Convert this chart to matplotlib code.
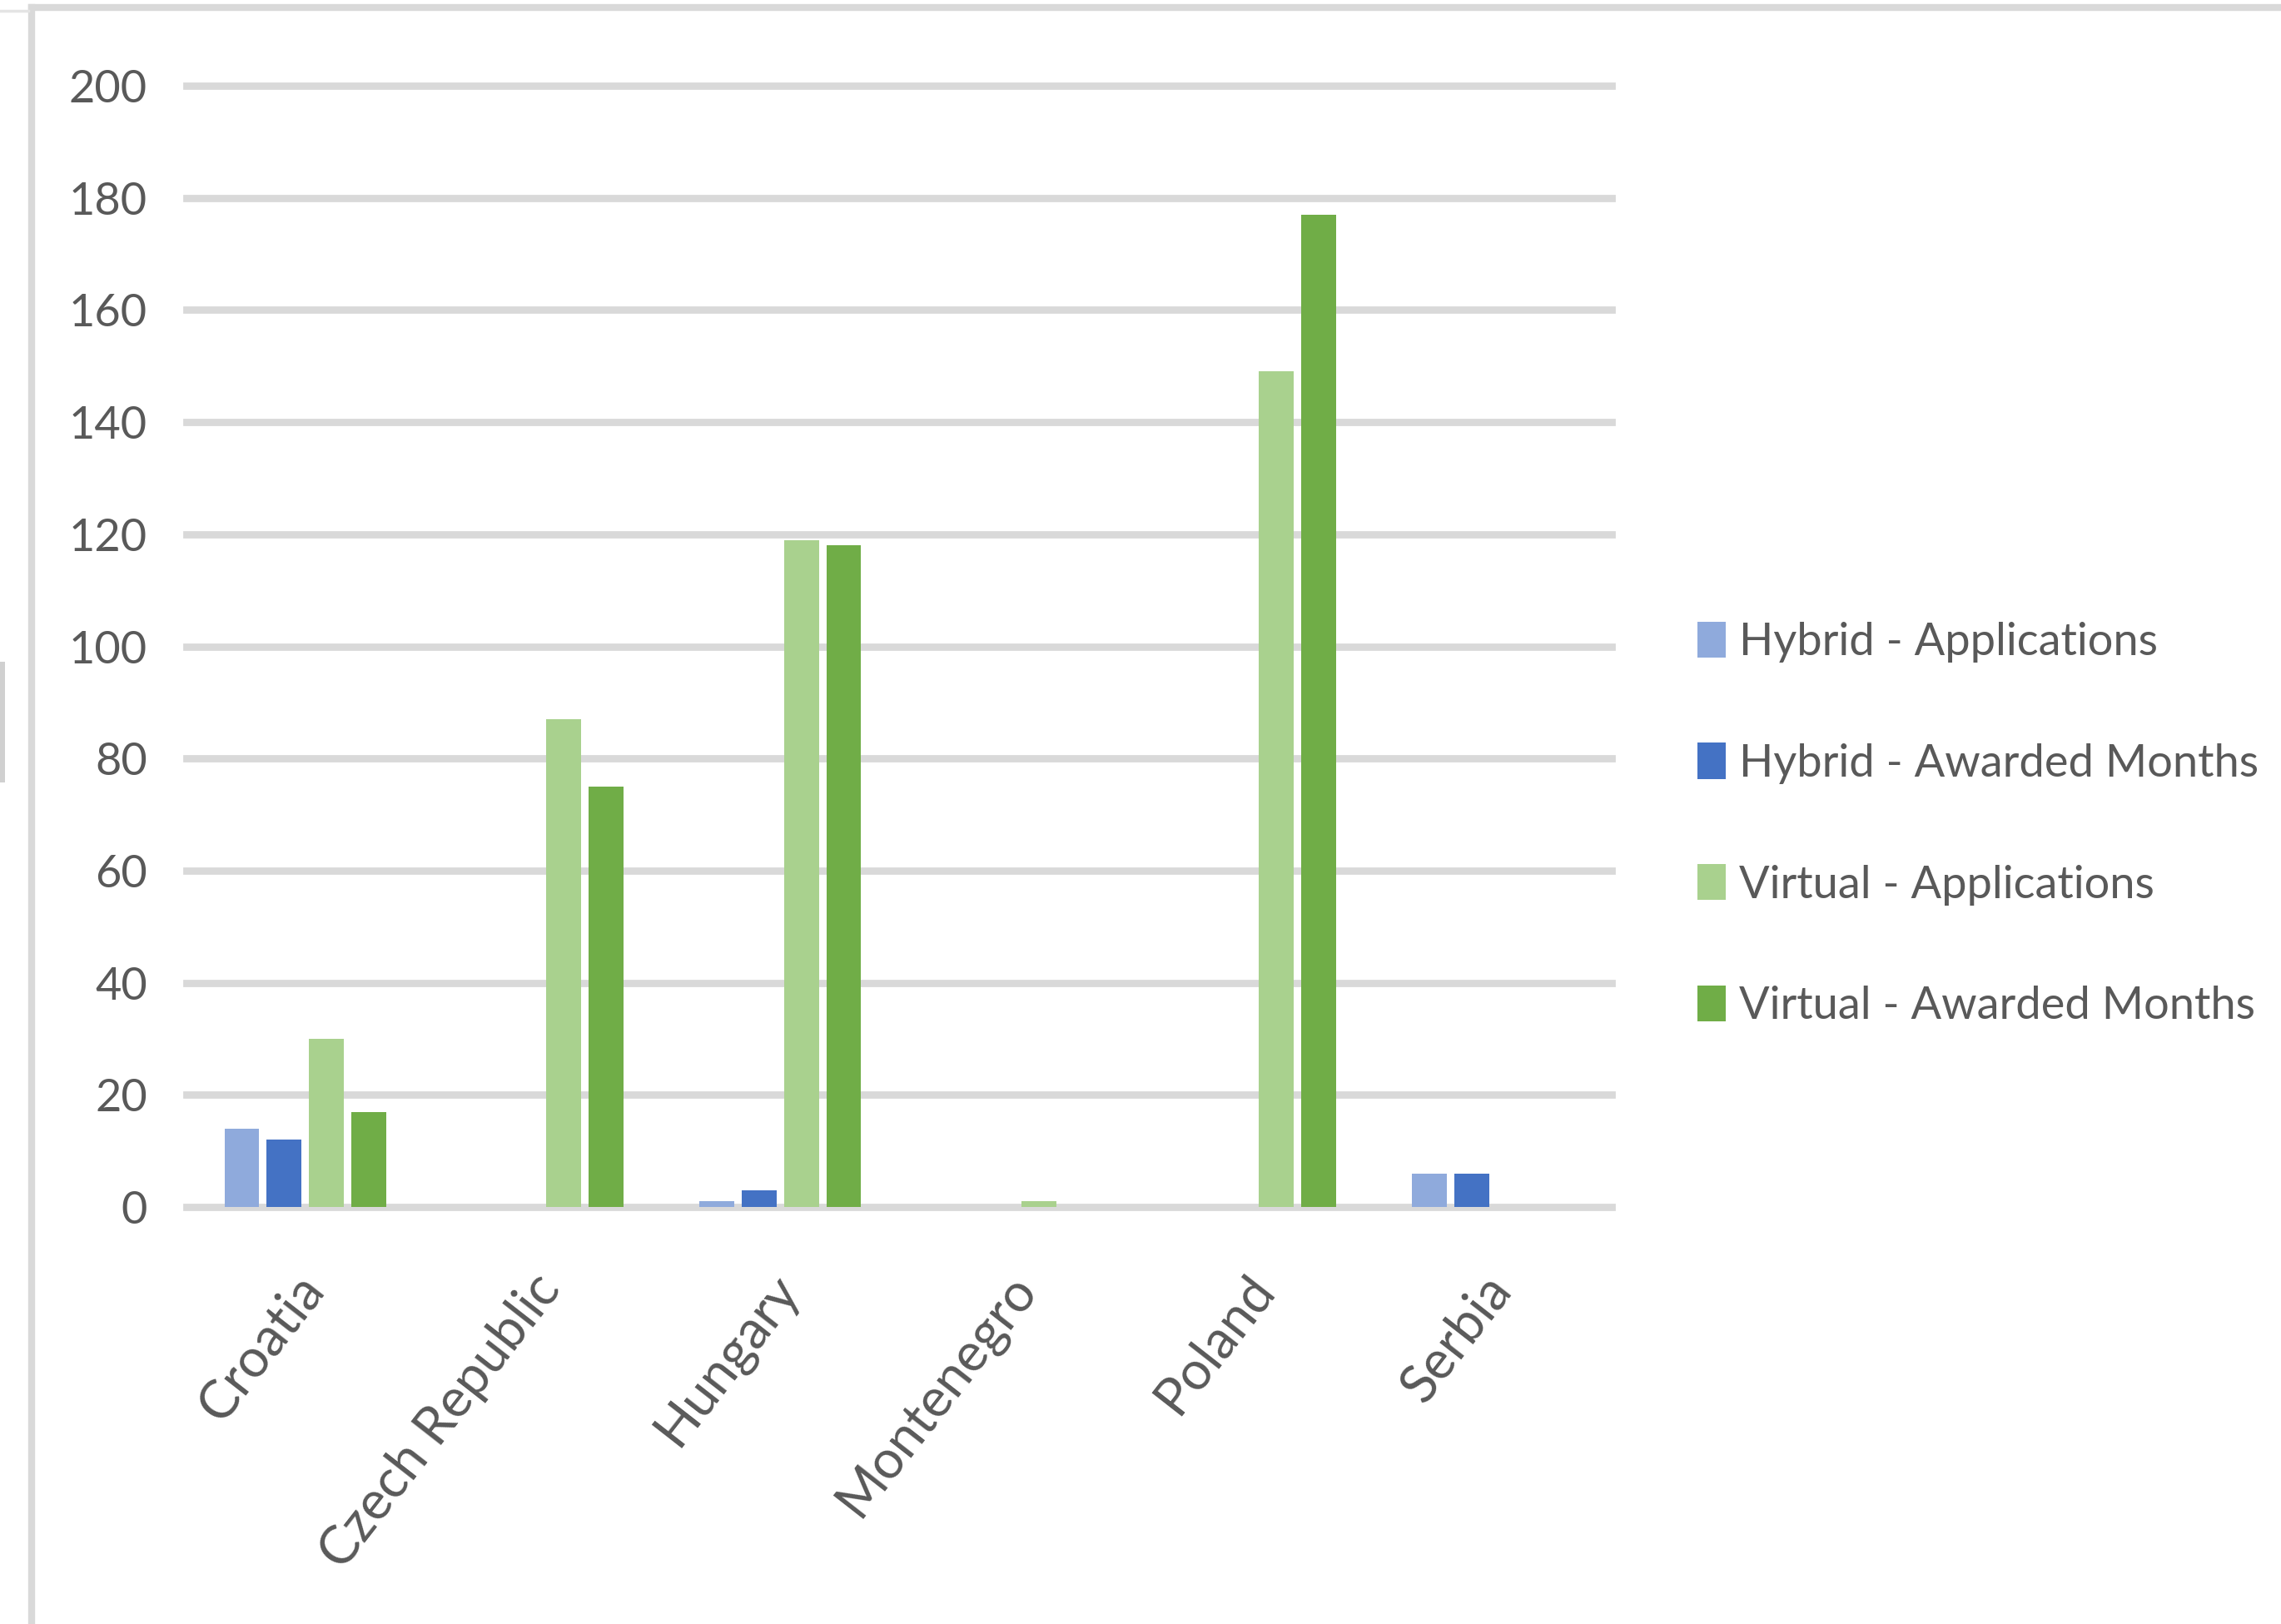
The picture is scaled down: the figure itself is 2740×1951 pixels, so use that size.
import numpy as np
import matplotlib.pyplot as plt
from matplotlib import font_manager
from matplotlib.lines import Line2D
from matplotlib.patches import Rectangle
import matplotlib.transforms as mtransforms

# ---------------- data ----------------
countries = ["Croatia", "Czech Republic", "Hungary", "Montenegro", "Poland", "Serbia"]
hybrid_apps = [14, 0, 1, 0, 0, 6]
hybrid_months = [12, 0, 3, 0, 0, 6]
virtual_apps = [30, 87, 119, 1, 149, 0]
virtual_months = [17, 75, 118, 0, 177, 0]

series_names = ["Hybrid - Applications", "Hybrid - Awarded Months",
                "Virtual - Applications", "Virtual - Awarded Months"]
series_colors = ["#8FAADC", "#4472C4", "#A9D18E", "#70AD47"]
y_ticks = [0, 20, 40, 60, 80, 100, 120, 140, 160, 180, 200]

# ---------------- font ----------------
names = {f.name for f in font_manager.fontManager.ttflist}
font = "Lato" if "Lato" in names else "DejaVu Sans"
plt.rcParams["font.family"] = [font, "DejaVu Sans"]
txt_color = "#595959"
fs = 39

fig = plt.figure(figsize=(27.4, 19.51), dpi=100)
W, H = 2740, 1951
ax = fig.add_axes([224 / W, 1 - 1450 / H, (1936 - 224) / W, (1450 - 103) / H])

x = np.arange(len(countries))
bw = 0.147
step = 0.178
all_series = [hybrid_apps, hybrid_months, virtual_apps, virtual_months]
for i, vals in enumerate(all_series):
    ax.bar(x + (i - 1.5) * step, vals, width=bw, color=series_colors[i],
           label=series_names[i], zorder=3)

ax.set_xlim(-0.5, len(countries) - 0.5)
ax.set_ylim(0, 200)
for t in y_ticks:
    ax.axhline(t, color="#D9D9D9", lw=6.3, zorder=1, clip_on=False)

for s in ax.spines.values():
    s.set_visible(False)
ax.set_yticks(y_ticks)
ax.set_yticklabels([str(t) for t in y_ticks], fontsize=fs, color=txt_color)
ax.tick_params(axis="y", length=0, pad=34)

ax.set_xticks(x)
ax.set_xticklabels(countries, rotation=52, ha="right", va="center",
                   rotation_mode="anchor", fontsize=46, color=txt_color)
ax.tick_params(axis="x", length=0, pad=64)
offset = mtransforms.ScaledTranslation(10 / 100, 0, fig.dpi_scale_trans)
for lab in ax.get_xticklabels():
    lab.set_transform(lab.get_transform() + offset)

leg = fig.legend(loc="center left", bbox_to_anchor=(2039 / W, 1 - 990 / H),
                 frameon=False, fontsize=fs, handlelength=0.62, handleheight=0.85,
                 handletextpad=0.3, labelspacing=1.78, borderpad=0, borderaxespad=0)
for t in leg.get_texts():
    t.set_color(txt_color)

# chart area border and left edge marks
fig.add_artist(Line2D([38 / W, 1], [1 - 9 / H, 1 - 9 / H], color="#D9D9D9", lw=6))
fig.add_artist(Line2D([38 / W, 38 / W], [0, 1 - 9 / H], color="#D9D9D9", lw=6))
fig.add_artist(Line2D([0, 34 / W], [1 - 13 / H, 1 - 13 / H], color="#E4E4E4", lw=2.5))
fig.add_artist(Rectangle((0, 1 - 940 / H), 6 / W, 145 / H, transform=fig.transFigure,
                         color="#D0D0D0", lw=0))

fig.savefig("out.png", dpi=100)
